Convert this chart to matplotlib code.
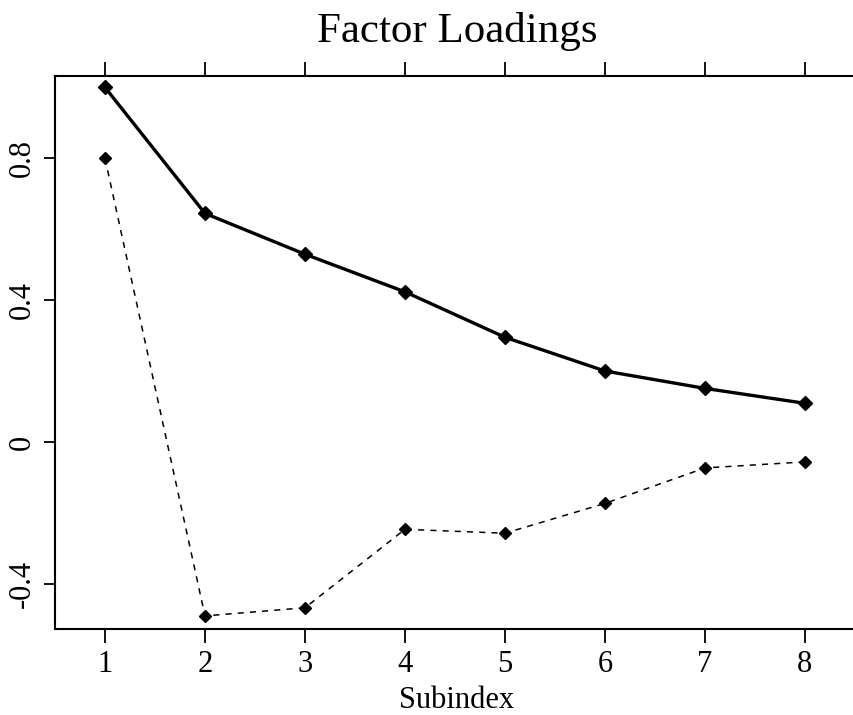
import numpy as np
import matplotlib
matplotlib.use("Agg")
from matplotlib import pyplot as plt

# factor loadings
subindex = [1, 2, 3, 4, 5, 6, 7, 8]
factor1 = [1.00, 0.645, 0.530, 0.424, 0.296, 0.201, 0.152, 0.110]
factor2 = [0.80, -0.489, -0.466, -0.245, -0.256, -0.172, -0.072, -0.055]
y_ticks = [-0.4, 0, 0.4, 0.8]
y_tick_labels = ["-0.4", "0", "0.4", "0.8"]

plt.rcParams['font.family'] = ['Liberation Serif', 'DejaVu Serif']

W, H = 854, 715
fig = plt.figure(figsize=(W / 100, H / 100), dpi=100)
# axes box in pixels: left 55, right 860 (runs off the image), top 75.7, bottom 628.7
ax = fig.add_axes([55 / W, (H - 628.7) / H, 805 / W, (628.7 - 75.7) / H])

ax.plot(subindex, factor1, color='black', lw=2.4, marker='D', ms=7,
        solid_joinstyle='round')
ax.plot(subindex, factor2, color='black', lw=1.1, dashes=(4, 4), marker='D', ms=6)

ax.set_xlim(0.5, 8.55)
ax.set_ylim(-0.525, 1.033)

ax.set_xticks(subindex)
ax.set_xticklabels([str(s) for s in subindex], fontsize=22)
ax.set_yticks(y_ticks)
ax.set_yticklabels(y_tick_labels, fontsize=22, rotation=90, va='center')

ax.tick_params(axis='x', direction='out', length=10, width=1.3, top=True, pad=5)
ax.tick_params(axis='y', direction='out', length=8, width=1.3, pad=5)
for side in ax.spines.values():
    side.set_linewidth(1.5)

fig.text(457 / W, 1 - 42 / H, "Factor Loadings", fontsize=31, ha='center', va='baseline')
fig.text(457 / W, 1 - 708 / H, "Subindex", fontsize=22, ha='center', va='baseline')

plt.savefig("out.png", dpi=100)
